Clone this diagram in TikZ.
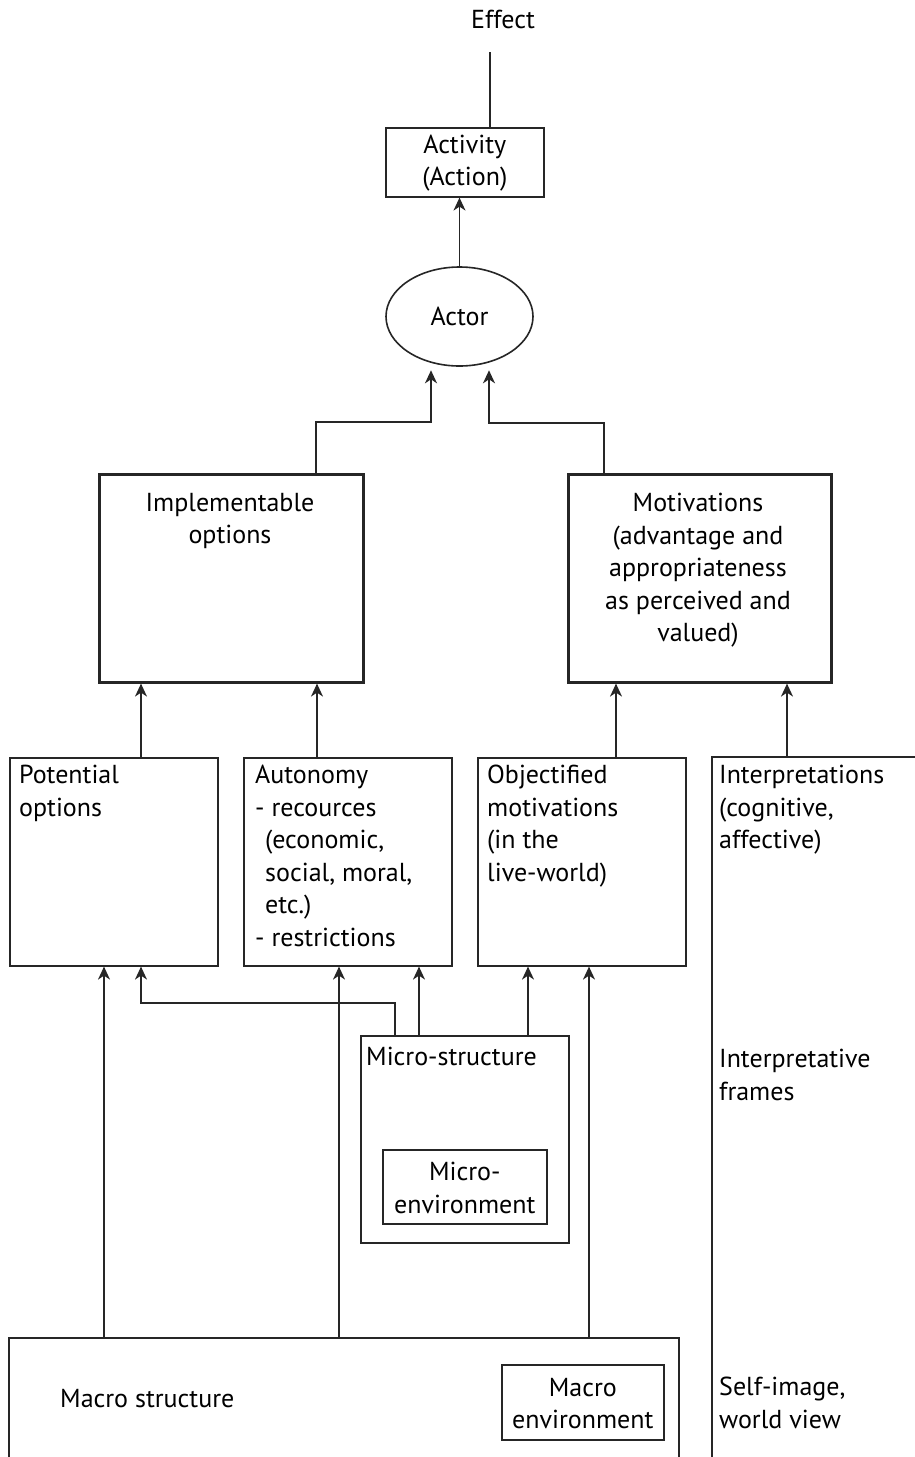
\documentclass[tikz,border=0pt]{standalone}
\usepackage{fontspec}
\setmainfont{PT Sans}
\usetikzlibrary{arrows.meta,shapes.geometric}
\newcommand\dfs{\fontsize{26}{32.5}\selectfont}
\definecolor{lc}{gray}{0.15}
\begin{document}
\begin{tikzpicture}[x=1pt,y=-1pt,
  ln/.style={draw=lc, line width=1.6pt},
  box/.style={ln, rectangle, inner sep=0pt, anchor=north west},
  bbox/.style={box, line width=2.6pt},
  arr/.style={ln, -{Stealth[length=13pt,width=12pt,inset=4pt]}},
  txt/.style={inner sep=0pt, font=\dfs, align=left, anchor=north west},
  ctxt/.style={inner sep=0pt, font=\dfs, align=center}]
\fill[white] (0,0) rectangle (915,1457);
\useasboundingbox (0,0) rectangle (915,1457);

% x positions of connectors
\coordinate (xe) at (490,0);
\coordinate (x316) at (316,0);
\coordinate (x431) at (431,0);
\coordinate (x489) at (489,0);
\coordinate (x604) at (604,0);
\coordinate (x141) at (141,0);
\coordinate (x317) at (317,0);
\coordinate (x616) at (616,0);
\coordinate (x787) at (787,0);
\coordinate (x104) at (104,0);
\coordinate (x395) at (395,0);
\coordinate (x339) at (339,0);
\coordinate (x419) at (419,0);
\coordinate (x528) at (528,0);
\coordinate (x589) at (589,0);
\coordinate (yl) at (0,422);
\coordinate (yr) at (0,423);
\coordinate (ym) at (0,1003);

% top
\node[ctxt] (eff) at (503,19) {Effect};
\coordinate (et) at (490,52);
\node[box, minimum width=158pt, minimum height=69pt] (act) at (385,127) {};
\node[ctxt] (actT) at ([yshift=-1pt]act.center) {Activity\\(Action)};
\node[ellipse, ln, inner sep=0pt, minimum width=147pt, minimum height=99pt, font=\dfs] (actor) at (459.5,316.5) {Actor};

% second level
\node[bbox, minimum width=264pt, minimum height=208pt] (impl) at (98,473) {};
\node[ctxt, anchor=north] (implT) at (230,493) {Implementable\\options};
\node[bbox, minimum width=263pt, minimum height=208pt] (mot) at (567,473) {};
\node[ctxt, anchor=north] (motT) at (698,493) {Motivations\\(advantage and\\appropriateness\\as perceived and\\valued)};

% third level
\node[box, minimum width=208pt, minimum height=208pt] (pot) at (9,757) {};
\node[txt] (potT) at (19,765) {Potential\\options};
\node[box, minimum width=208pt, minimum height=208pt] (aut) at (243,757) {};
\node[txt] (autT) at (255,765) {Autonomy\\- recources\\\hspace*{10pt}(economic,\\\hspace*{10pt}social, moral,\\\hspace*{10pt}etc.)\\- restrictions};
\node[box, minimum width=208pt, minimum height=208pt] (obj) at (477,757) {};
\node[txt] (objT) at (487,765) {Objectified\\motivations\\(in the\\live-world)};
\coordinate (intp) at (712,757);
\draw[ln] (915,757) -- (intp) -- (712,1457);
\node[txt] (intT) at (719,765) {Interpretations\\(cognitive,\\affective)};

% micro
\node[box, minimum width=208pt, minimum height=207pt] (micro) at (360,1035) {};
\node[txt] (microT) at (366,1047) {Micro-structure};
\node[box, minimum width=164pt, minimum height=74pt] (menv) at (382,1149) {};
\node[ctxt] (menvT) at ([yshift=-1pt]menv.center) {Micro-\\environment};
\node[txt] (ifT) at (719,1049) {Interpretative\\frames};

% macro
\coordinate (macNW) at (9,1338);
\coordinate (macNE) at (679,1338);
\draw[ln] (9,1457) -- (macNW) -- (macNE) -- (679,1457);
\node[txt] (macT) at (60,1389) {Macro structure};
\node[box, minimum width=162pt, minimum height=75pt] (macenv) at (501,1364) {};
\node[ctxt] (macenvT) at ([yshift=-1pt]macenv.center) {Macro\\environment};
\node[txt] (siT) at (719,1377) {Self-image,\\world view};

% connectors
\draw[ln] (act.north -| xe) -- (et);
\draw[arr] (actor.north) -- (actor.north |- act.south);
\draw[arr, shorten >=3.5pt] (impl.north -| x316) |- (x431 |- yl) -- (x431 |- actor.south);
\draw[arr, shorten >=3.5pt] (mot.north -| x604) |- (x489 |- yr) -- (x489 |- actor.south);
\draw[arr] (pot.north -| x141) -- (impl.south -| x141);
\draw[arr] (aut.north -| x317) -- (impl.south -| x317);
\draw[arr] (obj.north -| x616) -- (mot.south -| x616);
\draw[arr] (intp -| x787) -- (mot.south -| x787);
\draw[arr] (macNW -| x104) -- (pot.south -| x104);
\draw[arr] (macNW -| x339) -- (aut.south -| x339);
\draw[arr] (macNW -| x589) -- (obj.south -| x589);
\draw[arr] (micro.north -| x395) |- (x141 |- ym) -- (pot.south -| x141);
\draw[arr] (micro.north -| x419) -- (aut.south -| x419);
\draw[arr] (micro.north -| x528) -- (obj.south -| x528);
\end{tikzpicture}
\end{document}
